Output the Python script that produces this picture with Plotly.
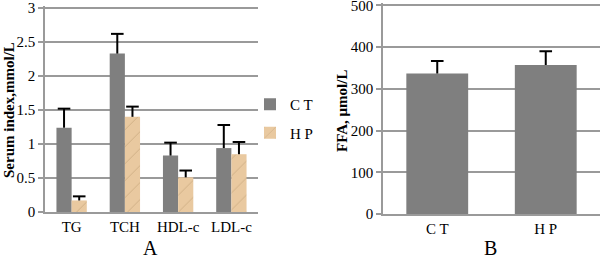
import plotly.graph_objects as go

# Panel A data
categories = ["TG", "TCH", "HDL-c", "LDL-c"]
ct_values = [1.24, 2.33, 0.83, 0.94]
ct_errors = [0.28, 0.29, 0.19, 0.34]
hp_values = [0.17, 1.40, 0.51, 0.85]
hp_errors = [0.06, 0.15, 0.10, 0.18]

# Panel B data
groups_b = ["C T", "H P"]
ffa_values = [337, 357]
ffa_errors = [30, 33]

GRAY = "#7f7f7f"
TAN = "#e9c9a0"
GRID = "#9a9a9a"
FONT = "Liberation Serif"
GAP = 0.43


def up_err(errs):
    # vertical stem only (caps drawn by marker traces)
    return dict(type="data", symmetric=False, array=errs,
                arrayminus=[0] * len(errs), color="black",
                thickness=2, width=0)


fig = go.Figure()

fig.add_trace(go.Bar(
    x=categories, y=ct_values, name="C T", legendgroup="ct",
    offsetgroup="ct",
    marker=dict(color=GRAY, line=dict(width=0)),
    error_y=up_err(ct_errors), xaxis="x", yaxis="y",
))
fig.add_trace(go.Bar(
    x=categories, y=hp_values, name="H P", legendgroup="hp",
    offsetgroup="hp",
    marker=dict(color=TAN, line=dict(width=0),
                pattern=dict(shape="/", size=12, solidity=0.07,
                             fgcolor="#a8865c", fgopacity=0.45)),
    error_y=up_err(hp_errors), xaxis="x", yaxis="y",
))
fig.add_trace(go.Bar(
    x=groups_b, y=ffa_values, name="FFA", showlegend=False,
    marker=dict(color=GRAY, line=dict(width=0)),
    error_y=up_err(ffa_errors), xaxis="x2", yaxis="y2",
))

# error bar caps
cap_marker = dict(symbol="line-ew", size=9, line=dict(color="black", width=2))
fig.add_trace(go.Scatter(
    x=categories, y=[v + e for v, e in zip(ct_values, ct_errors)],
    mode="markers", marker=cap_marker, showlegend=False, hoverinfo="skip",
    offsetgroup="ct", xaxis="x", yaxis="y",
))
fig.add_trace(go.Scatter(
    x=categories, y=[v + e for v, e in zip(hp_values, hp_errors)],
    mode="markers", marker=cap_marker, showlegend=False, hoverinfo="skip",
    offsetgroup="hp", xaxis="x", yaxis="y",
))
fig.add_trace(go.Scatter(
    x=groups_b, y=[v + e for v, e in zip(ffa_values, ffa_errors)],
    mode="markers", marker=cap_marker, showlegend=False, hoverinfo="skip",
    xaxis="x2", yaxis="y2",
))

tickfont = dict(family=FONT, size=15, color="black")

fig.update_layout(
    width=600, height=259,
    margin=dict(l=0, r=0, t=0, b=0),
    paper_bgcolor="white", plot_bgcolor="white",
    barmode="group", bargap=GAP, bargroupgap=0,
    scattermode="group", scattergap=GAP,
    font=dict(family=FONT, color="black"),
    xaxis=dict(domain=[45 / 600, 258 / 600], anchor="y", automargin=False,
               showline=True, linecolor=GRID, linewidth=1.5,
               showgrid=False, ticks="", tickfont=tickfont),
    yaxis=dict(domain=[1 - 212 / 259, 1 - 6 / 259], anchor="x", automargin=False,
               range=[0, 3.03], tickvals=[0, 0.5, 1, 1.5, 2, 2.5, 3],
               ticktext=["0", "0.5", "1", "1.5", "2", "2.5", "3"],
               ticklabeloverflow="allow",
               showline=True, linecolor=GRID, linewidth=1.5,
               showgrid=True, gridcolor=GRID, gridwidth=1.5,
               ticks="outside", ticklen=5, tickcolor=GRID, tickwidth=1.5,
               tickfont=tickfont, zeroline=False),
    xaxis2=dict(domain=[383 / 600, 1.0], anchor="y2", automargin=False,
                showline=True, linecolor=GRID, linewidth=1.5,
                showgrid=False, ticks="", tickfont=tickfont),
    yaxis2=dict(domain=[1 - 214 / 259, 1 - 3.4 / 259], anchor="x2", automargin=False,
                range=[0, 505], tickvals=[0, 100, 200, 300, 400, 500],
                ticklabeloverflow="allow",
                showline=True, linecolor=GRID, linewidth=1.5,
                showgrid=True, gridcolor=GRID, gridwidth=1.5,
                ticks="outside", ticklen=5, tickcolor=GRID, tickwidth=1.5,
                tickfont=tickfont, zeroline=False),
    legend=dict(x=250 / 600, y=1 - 88 / 259, xanchor="left", yanchor="top",
                font=dict(family=FONT, size=15, color="black"),
                bgcolor="rgba(0,0,0,0)", itemwidth=30,
                traceorder="grouped", tracegroupgap=6),
    showlegend=True,
    annotations=[
        dict(text="<b>Serum index,mmol/L</b>", textangle=-90,
             x=9 / 600, y=1 - 110 / 259, xref="paper", yref="paper",
             xanchor="center", yanchor="middle",
             showarrow=False, font=dict(family=FONT, size=15)),
        dict(text="<b>FFA, μmol/L</b>", textangle=-90,
             x=342 / 600, y=1 - 111 / 259, xref="paper", yref="paper",
             xanchor="center", yanchor="middle",
             showarrow=False, font=dict(family=FONT, size=15)),
        dict(text="A", x=150 / 600, y=1 - 248 / 259, xref="paper", yref="paper",
             xanchor="center", yanchor="middle",
             showarrow=False, font=dict(family=FONT, size=20)),
        dict(text="B", x=490 / 600, y=1 - 248 / 259, xref="paper", yref="paper",
             xanchor="center", yanchor="middle",
             showarrow=False, font=dict(family=FONT, size=20)),
    ],
)

fig.write_html("out.html",
               config={"displayModeBar": False},
               post_script="document.body.style.margin='0';"
                           "document.body.style.overflow='hidden';")
